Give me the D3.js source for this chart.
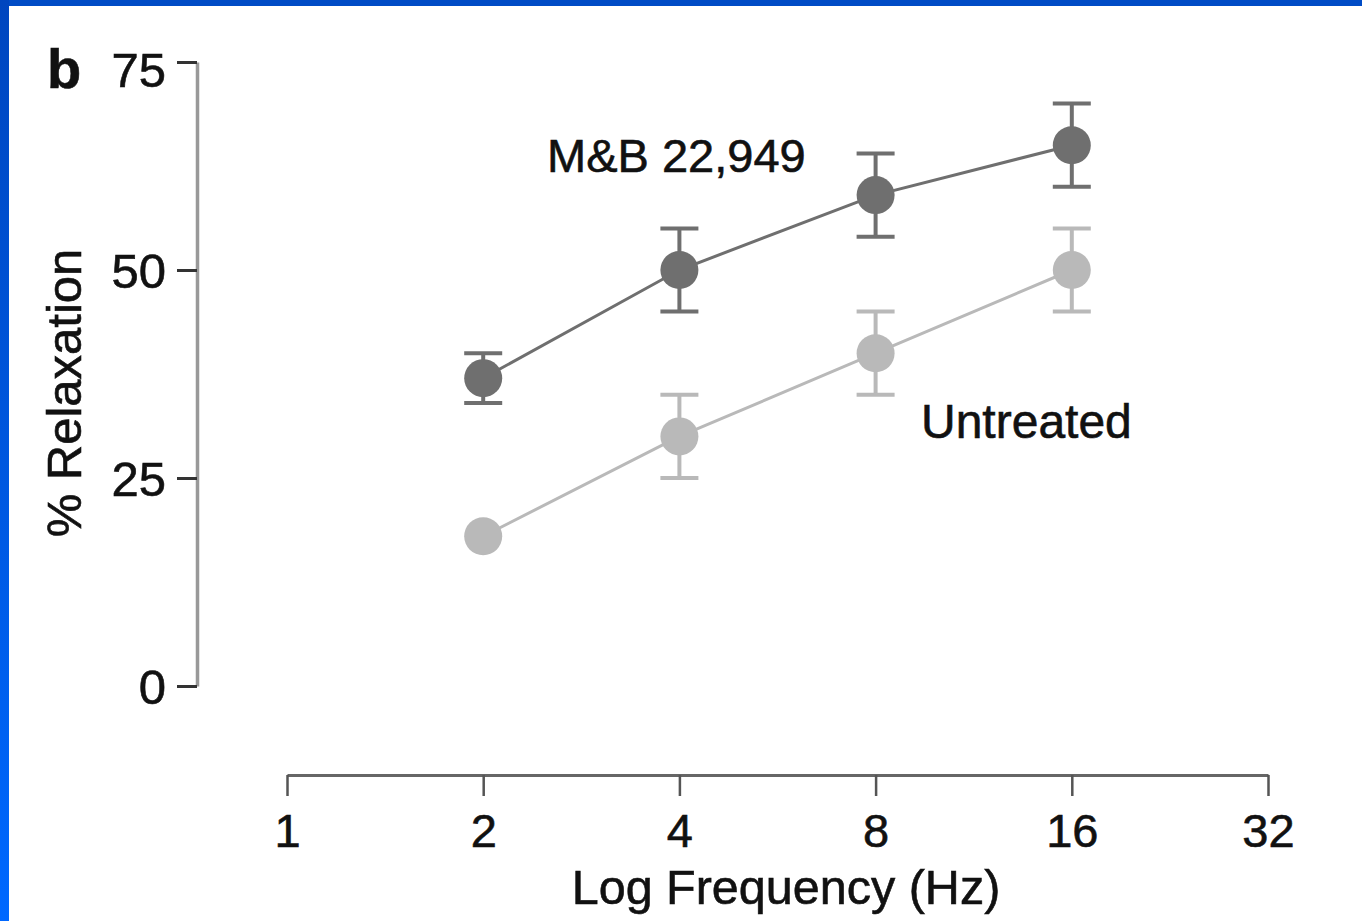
<!DOCTYPE html>
<html>
<head>
<meta charset="utf-8">
<script src="https://cdn.jsdelivr.net/npm/d3@7"></script>
<style>
  html, body { margin: 0; padding: 0; background: #fff; }
  svg { display: block; }
  text { font-family: "Liberation Sans", Arial, Helvetica, sans-serif; fill: #111; stroke: #111; stroke-width: 0.6px; }
</style>
</head>
<body>
<div id="chart"></div>
<script>
// frequencies (Hz), log2 axis
let freqs = [2, 4, 8, 16];
let xTicks = [1, 2, 4, 8, 16, 32];
let yTicks = [0, 25, 50, 75];

// % relaxation, mean and error (+/-)
let mbMean = [37, 50, 59, 65];
let mbErr = [3, 5, 5, 5];
let untreatedMean = [18, 30, 40, 50];
let untreatedErr = [0, 5, 5, 5];

let W = 1362, H = 921;

let svg = d3.select("#chart")
  .append("svg")
  .attr("width", W)
  .attr("height", H);

// blue slide frame (top and left edge)
let defs = svg.append("defs");
let grad = defs.append("linearGradient")
  .attr("id", "edge")
  .attr("x1", 0).attr("y1", 0).attr("x2", 0).attr("y2", 1);
grad.append("stop").attr("offset", "0%").attr("stop-color", "#0046bf");
grad.append("stop").attr("offset", "100%").attr("stop-color", "#0068ff");

svg.append("rect").attr("x", 0).attr("y", 0).attr("width", W).attr("height", 6).attr("fill", "#004cc6");
svg.append("rect").attr("x", 0).attr("y", 0).attr("width", 9).attr("height", H).attr("fill", "url(#edge)");

let x = d3.scaleLog().base(2)
  .domain([1, 32])
  .range([287, 1268]);

let y = d3.scaleLinear()
  .domain([0, 75])
  .range([686, 62]);

// Y axis
let yAxis = svg.append("g")
  .attr("transform", "translate(197,0)")
  .call(d3.axisLeft(y).tickValues(yTicks).tickSize(20).tickPadding(11).tickSizeOuter(0));
yAxis.select(".domain").attr("stroke", "#999").attr("stroke-width", 3.5);
yAxis.selectAll(".tick line").attr("stroke", "#333").attr("stroke-width", 3);
yAxis.selectAll(".tick text")
  .attr("font-size", 49)
  .attr("fill", "#111")
  .attr("dy", d => d == 75 ? "0.5em" : "0.36em")
  .style("font-family", "'Liberation Sans', Arial, sans-serif");

// X axis
let xAxis = svg.append("g")
  .attr("transform", "translate(0,775)")
  .call(d3.axisBottom(x).tickValues(xTicks).tickFormat(d3.format("d")).tickSize(21).tickPadding(16).tickSizeOuter(0));
xAxis.select(".domain").attr("stroke", "#666").attr("stroke-width", 3);
xAxis.selectAll(".tick line").attr("stroke", "#555").attr("stroke-width", 2.5);
xAxis.selectAll(".tick text")
  .attr("font-size", 47)
  .attr("fill", "#111")
  .attr("dy", "0.75em")
  .style("font-family", "'Liberation Sans', Arial, sans-serif");

// axis titles
svg.append("text")
  .attr("x", 786)
  .attr("y", 904)
  .attr("text-anchor", "middle")
  .attr("font-size", 48.5)
  .text("Log Frequency (Hz)");

svg.append("text")
  .attr("transform", "translate(81,393) rotate(-90)")
  .attr("text-anchor", "middle")
  .attr("font-size", 49)
  .text("% Relaxation");

svg.append("text")
  .attr("x", 47)
  .attr("y", 88)
  .attr("font-size", 56)
  .attr("font-weight", "bold")
  .text("b");

function drawSeries(means, errs, color) {
  let pts = freqs.map((f, i) => ({ f: f, m: means[i], e: errs[i] }));
  let g = svg.append("g");

  g.append("path")
    .datum(pts)
    .attr("fill", "none")
    .attr("stroke", color)
    .attr("stroke-width", 3)
    .attr("d", d3.line().x(d => x(d.f)).y(d => y(d.m)));

  let eb = g.selectAll(".err")
    .data(pts.filter(d => d.e > 0))
    .enter().append("g");
  eb.append("line")
    .attr("x1", d => x(d.f)).attr("x2", d => x(d.f))
    .attr("y1", d => y(d.m + d.e)).attr("y2", d => y(d.m - d.e))
    .attr("stroke", color).attr("stroke-width", 4);
  [1, -1].forEach(s => {
    eb.append("line")
      .attr("x1", d => x(d.f) - 19).attr("x2", d => x(d.f) + 19)
      .attr("y1", d => y(d.m + s * d.e)).attr("y2", d => y(d.m + s * d.e))
      .attr("stroke", color).attr("stroke-width", 4);
  });

  g.selectAll("circle")
    .data(pts)
    .enter().append("circle")
    .attr("cx", d => x(d.f))
    .attr("cy", d => y(d.m))
    .attr("r", 19)
    .attr("fill", color);
}

drawSeries(untreatedMean, untreatedErr, "#b9b9b9");
drawSeries(mbMean, mbErr, "#6f6f6f");

// series labels
svg.append("text")
  .attr("x", 547)
  .attr("y", 172)
  .attr("font-size", 47)
  .text("M&B 22,949");

svg.append("text")
  .attr("x", 921)
  .attr("y", 438)
  .attr("font-size", 48)
  .text("Untreated");
</script>
</body>
</html>
